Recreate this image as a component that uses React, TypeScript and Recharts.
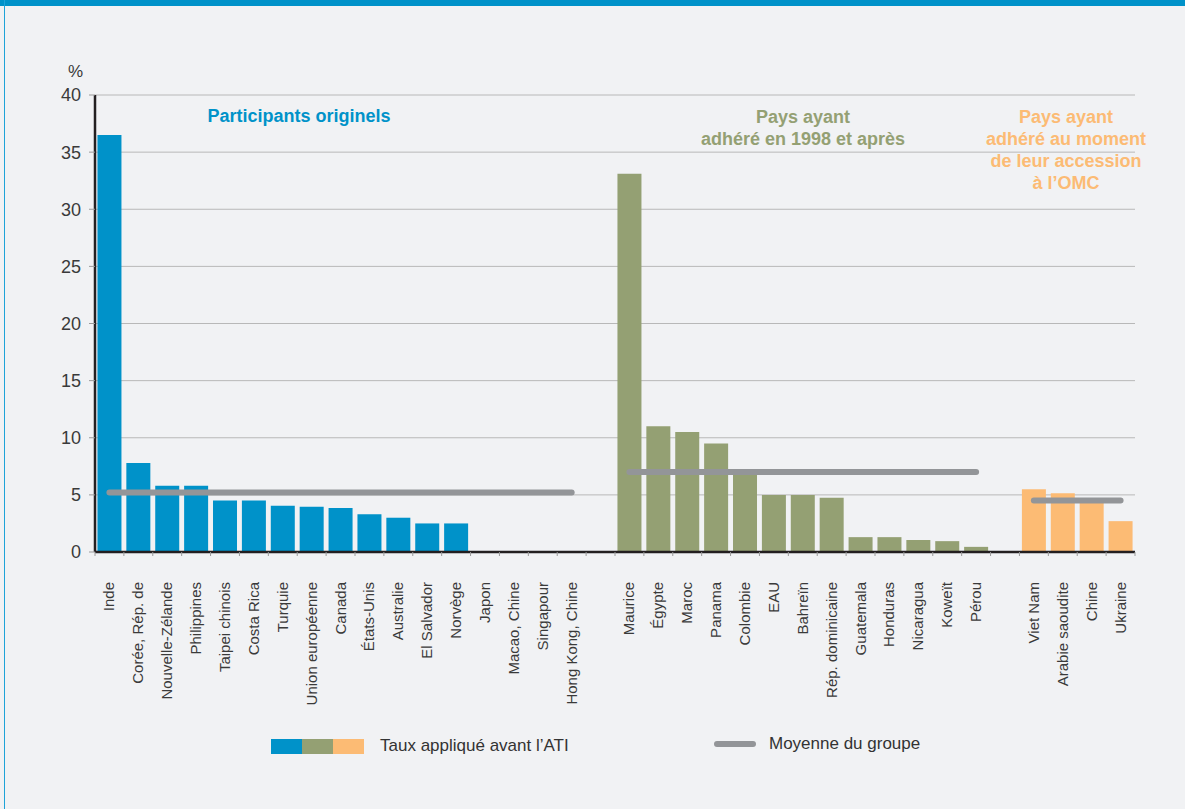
import React from "react";
import { ComposedChart, Bar, Line, Cell, XAxis, YAxis, CartesianGrid } from "recharts";

const originalNames = [
  "Inde", "Corée, Rép. de", "Nouvelle-Zélande", "Philippines", "Taipei chinois", "Costa Rica",
  "Turquie", "Union européenne", "Canada", "États-Unis", "Australie", "El Salvador", "Norvège",
  "Japon", "Macao, Chine", "Singapour", "Hong Kong, Chine",
];
const originalRates = [36.5, 7.8, 5.8, 5.8, 4.5, 4.5, 4.05, 3.95, 3.85, 3.3, 3.0, 2.5, 2.5, 0, 0, 0, 0];

const joinedNames = [
  "Maurice", "Égypte", "Maroc", "Panama", "Colombie", "EAU", "Bahreïn", "Rép. dominicaine",
  "Guatemala", "Honduras", "Nicaragua", "Koweït", "Pérou",
];
const joinedRates = [33.1, 11.0, 10.5, 9.5, 7.2, 5.0, 5.0, 4.75, 1.3, 1.3, 1.05, 0.95, 0.45];

const accessionNames = ["Viet Nam", "Arabie saoudite", "Chine", "Ukraine"];
const accessionRates = [5.5, 5.15, 4.5, 2.7];

const groupAverages = [5.2, 7.0, 4.5];
const yTicks = [0, 5, 10, 15, 20, 25, 30, 35, 40];

const COLORS = ["#0092c9", "#94a073", "#fcbb74"];
const FONT = "'Liberation Sans', Arial, Helvetica, sans-serif";

type Row = { name: string; value: number | null; group: number; avg1?: number | null; avg2?: number | null; avg3?: number | null };

const groups = [
  { names: originalNames, rates: originalRates },
  { names: joinedNames, rates: joinedRates },
  { names: accessionNames, rates: accessionRates },
];

const rows: Row[] = [];
groups.forEach((g, gi) => {
  if (gi > 0) rows.push({ name: "", value: null, group: -1 });
  g.names.forEach((n, i) => {
    const r: Row = { name: n, value: g.rates[i], group: gi, avg1: null, avg2: null, avg3: null };
    (r as any)["avg" + (gi + 1)] = groupAverages[gi];
    rows.push(r);
  });
});

const W = 1185;
const H = 809;
const LEFT = 95;
const RIGHT = 50;
const STEP = (W - LEFT - RIGHT) / rows.length;

function CategoryTick(props: any) {
  const { x, y, payload, index } = props;
  const bx = x - STEP / 2;
  return (
    <g>
      <line x1={bx} x2={bx} y1={y} y2={y + 4} stroke="#9a9a9a" strokeWidth={1} />
      {index === rows.length - 1 && (
        <line x1={x + STEP / 2} x2={x + STEP / 2} y1={y} y2={y + 4} stroke="#9a9a9a" strokeWidth={1} />
      )}
      <text
        transform={`translate(${x + 5},${y + 30}) rotate(-90)`}
        textAnchor="end"
        fontSize={15}
        fontFamily={FONT}
        fill="#3a3a3a"
      >
        {payload.value}
      </text>
    </g>
  );
}

const titleStyle: React.CSSProperties = {
  position: "absolute",
  fontFamily: FONT,
  fontWeight: 700,
  fontSize: 18,
  lineHeight: "22px",
  textAlign: "center",
  whiteSpace: "nowrap",
  transform: "translateX(-50%)",
};

export default function App() {
  return (
    <div
      style={{
        position: "absolute",
        left: 0,
        top: 0,
        width: W,
        height: H,
        background: "#f1f2f4",
        overflow: "hidden",
        fontFamily: FONT,
      }}
    >
      <div style={{ position: "absolute", left: 0, top: 0, width: W, height: 6, background: "#0092c9" }} />
      <div style={{ position: "absolute", left: 4, top: 0, width: 1, height: H, background: "#1ea3d8" }} />

      <ComposedChart width={W} height={H} data={rows} margin={{ top: 95, right: RIGHT, left: 0, bottom: 0 }} barCategoryGap="8.5%">
        <CartesianGrid vertical={false} stroke="#b8b8b8" strokeWidth={1} />
        <XAxis
          dataKey="name"
          interval={0}
          height={H - 552}
          tickLine={false}
          tickSize={0}
          tickMargin={0}
          axisLine={{ stroke: "#231f20", strokeWidth: 2.5 }}
          tick={<CategoryTick />}
        />
        <YAxis
          width={LEFT}
          domain={[0, 40]}
          ticks={yTicks}
          interval={0}
          tickSize={6}
          tickMargin={8}
          tickLine={{ stroke: "#9a9a9a" }}
          axisLine={{ stroke: "#231f20", strokeWidth: 2.5 }}
          tick={{ fontSize: 18, fill: "#3a3a3a", fontFamily: FONT }}
        />
        <Bar dataKey="value" isAnimationActive={false}>
          {rows.map((r, i) => (
            <Cell key={i} fill={r.group >= 0 ? COLORS[r.group] : "none"} />
          ))}
        </Bar>
        {["avg1", "avg2", "avg3"].map((k) => (
          <Line
            key={k}
            dataKey={k}
            type="linear"
            stroke="#939598"
            strokeWidth={6}
            strokeLinecap="round"
            dot={false}
            activeDot={false}
            connectNulls={false}
            isAnimationActive={false}
          />
        ))}
      </ComposedChart>

      <div style={{ position: "absolute", left: 68, top: 62, fontSize: 17, color: "#3a3a3a" }}>%</div>

      <div style={{ ...titleStyle, left: 299, top: 105, color: COLORS[0] }}>Participants originels</div>
      <div style={{ ...titleStyle, left: 803, top: 106, color: COLORS[1] }}>
        Pays ayant
        <br />
        adhéré en 1998 et après
      </div>
      <div style={{ ...titleStyle, left: 1066, top: 106, color: COLORS[2] }}>
        Pays ayant
        <br />
        adhéré au moment
        <br />
        de leur accession
        <br />à l’OMC
      </div>

      <div style={{ position: "absolute", left: 271, top: 736, display: "flex", alignItems: "center" }}>
        {COLORS.map((c) => (
          <div key={c} style={{ width: 31, height: 15, background: c }} />
        ))}
        <span style={{ marginLeft: 16, fontSize: 17, color: "#333" }}>Taux appliqué avant l’ATI</span>
      </div>
      <div style={{ position: "absolute", left: 714, top: 736, display: "flex", alignItems: "center", height: 15 }}>
        <div style={{ width: 42, height: 6, borderRadius: 3, background: "#939598" }} />
        <span style={{ marginLeft: 13, fontSize: 17, color: "#333" }}>Moyenne du groupe</span>
      </div>
    </div>
  );
}
